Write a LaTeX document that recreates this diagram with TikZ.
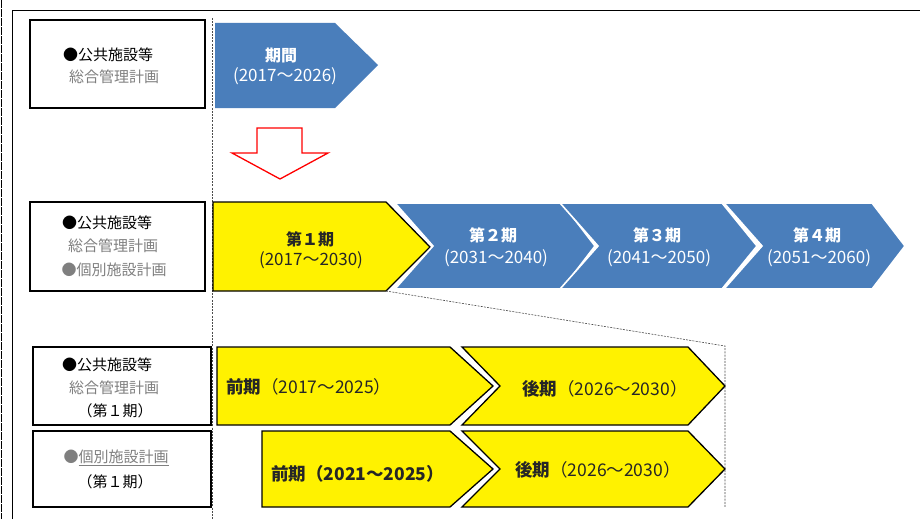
\documentclass[tikz,border=0pt]{standalone}
\usepackage{fontspec}
\setmainfont{Noto Sans CJK JP}
\definecolor{blueC}{HTML}{4A7EBB}
\definecolor{grayT}{HTML}{7F7F7F}
\definecolor{darkT}{HTML}{262626}
\begin{document}
\begin{tikzpicture}[x=1pt,y=-1pt,
  lbox/.style={draw=black,line width=1.6pt,fill=white},
  bluesh/.style={fill=blueC,draw=white,line width=1.6pt},
  yelsh/.style={fill=yellow,draw=black,line width=1.3pt,line join=miter},
  lbl/.style={inner sep=0pt,font=\fontsize{15}{18}\selectfont},
  gl/.style={lbl,text=grayT},
  wtitle/.style={inner sep=0pt,text=white,font=\bfseries\fontsize{16}{19}\selectfont},
  wyear/.style={inner sep=0pt,text=white,font=\fontsize{17}{20}\selectfont},
  ytitle/.style={inner sep=0pt,text=darkT,font=\bfseries\fontsize{16}{19}\selectfont},
  yyear/.style={inner sep=0pt,text=darkT,font=\fontsize{17}{20}\selectfont},
  rowt/.style={inner sep=0pt,text=darkT,font=\fontsize{17.5}{20}\selectfont},
  guide/.style={draw=black!70,line width=0.6pt,dash pattern=on 2pt off 1.2pt}
]
\useasboundingbox (0,0) rectangle (920,519);
\fill[white] (0,0) rectangle (920,519);
% frame
\draw[line width=1.6pt,dash pattern=on 8pt off 1pt] (1.5,0) -- (1.5,519);
\draw[line width=0.8pt] (12,519) -- (12,10) -- (920,10);
% guide lines
\coordinate (g1) at (212,18);
\coordinate (g2) at (212,519);
\draw[guide] (g1) -- (g2);

% ---- row 1
\draw[lbox] (30,20) rectangle (205,108);
\node[lbl] (r1a) at (108,55) {●公共施設等};
\node[gl]  (r1b) at (114,77) {総合管理計画};
\fill[blueC] (215,23) -- (335,23) -- (378,65) -- (335,108) -- (215,108) -- cycle;
\node[wtitle] (p0t) at (281,56) {期間};
\node[wyear]  (p0y) at (285,76) {(2017～2026)};

% red arrow
\draw[red,line width=1.3pt,fill=white,line join=miter]
  (257,128) -- (302,128) -- (302,153) -- (328,153) -- (280,179) -- (232,153) -- (257,153) -- cycle;

% ---- row 2
\draw[lbox] (30,202) rectangle (205,291);
\node[lbl] (r2a) at (107,223) {●公共施設等};
\node[gl]  (r2b) at (113,246) {総合管理計画};
\node[gl]  (r2c) at (114,270) {●個別施設計画};

\draw[yelsh] (213,202) -- (386,202) -- (430,247) -- (386,291) -- (213,291) -- cycle;
\node[ytitle] (p1t) at (310,239) {第１期};
\node[yyear]  (p1y) at (311,260) {(2017～2030)};

\draw[bluesh] (395,203) -- (562,203) -- (595,246) -- (562,289) -- (395,289) -- (433,246) -- cycle;
\draw[bluesh] (560,203) -- (722,203) -- (757,246) -- (722,289) -- (560,289) -- (598,246) -- cycle;
\draw[bluesh] (724,203) -- (872,203) -- (905,246) -- (872,289) -- (724,289) -- (762,246) -- cycle;
\node[wtitle] (p2t) at (493,235) {第２期};
\node[wyear]  (p2y) at (496,258) {(2031～2040)};
\node[wtitle] (p3t) at (657,235) {第３期};
\node[wyear]  (p3y) at (659,258) {(2041～2050)};
\node[wtitle] (p4t) at (817,235) {第４期};
\node[wyear]  (p4y) at (819,258) {(2051～2060)};

% zoom connector
\coordinate (z1) at (386,291);
\coordinate (z2) at (725,346);
\coordinate (z3) at (725,507);
\draw[guide] (z1) -- (z2) -- (z3);

% ---- row 3
\draw[lbox] (33,347) rectangle (211,425);
\node[lbl] (r3a) at (107,365) {●公共施設等};
\node[gl]  (r3b) at (114,388) {総合管理計画};
\node[lbl] (r3c) at (115,411) {（第１期）};
\draw[yelsh] (217,347) -- (450,347) -- (493,386) -- (450,425) -- (217,425) -- cycle;
\draw[yelsh] (462,347) -- (688,347) -- (725,386) -- (688,425) -- (462,425) -- (500,386) -- cycle;
\node[rowt,anchor=west] (p5) at (226,387) {\textbf{前期}（2017～2025）};
\node[rowt] (p6) at (605,389) {\textbf{後期}（2026～2030）};

% ---- row 4
\draw[lbox] (33,431) rectangle (211,507);
\node[gl] (r4a) at (116,458) {●\underline{個別施設計画}};
\node[lbl] (r4b) at (115,482) {（第１期）};
\draw[yelsh] (262,431) -- (450,431) -- (493,469) -- (450,507) -- (262,507) -- cycle;
\draw[yelsh] (462,431) -- (688,431) -- (725,469) -- (688,507) -- (462,507) -- (500,469) -- cycle;
\node[rowt,font=\bfseries\fontsize{17.5}{20}\selectfont,anchor=west] (p7) at (271,474) {前期（2021～2025）};
\node[rowt] (p8) at (598,470) {\textbf{後期}（2026～2030）};
\end{tikzpicture}
\end{document}
